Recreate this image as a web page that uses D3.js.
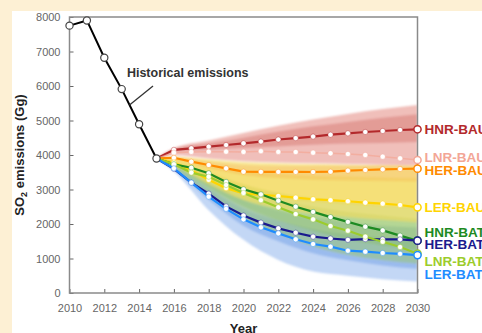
<!DOCTYPE html>
<html>
<head>
<meta charset="utf-8">
<script src="https://cdn.jsdelivr.net/npm/d3@7/dist/d3.min.js"></script>
<style>
  html, body { margin: 0; padding: 0; background: #fdf0d4; }
  svg { display: block; }
  text { font-family: Arial, "Liberation Sans", Helvetica, sans-serif; }
</style>
</head>
<body>
<svg id="chart" width="482" height="333"></svg>
<script>
// ---- Historical emissions (Gg) ----
const histYears  = [2010, 2011, 2012, 2013, 2014, 2015];
const histValues = [7750, 7900, 6820, 5910, 4890, 3900];

// ---- Scenario projections, 2015-2030 (Gg) ----
const projYears = [2015, 2016, 2017, 2018, 2019, 2020, 2021, 2022, 2023, 2024, 2025, 2026, 2027, 2028, 2029, 2030];
const hnrBau = [3900, 4150, 4194, 4241, 4290, 4339, 4390, 4450, 4490, 4535, 4588, 4629, 4667, 4696, 4725, 4745];
const lnrBau = [3900, 4067, 4090, 4096, 4096, 4090, 4110, 4090, 4087, 4067, 4049, 4029, 4000, 3951, 3904, 3855];
const herBau = [3900, 3920, 3806, 3710, 3614, 3516, 3512, 3510, 3510, 3507, 3516, 3545, 3565, 3586, 3594, 3603];
const lerBau = [3900, 3780, 3560, 3280, 3040, 2890, 2845, 2812, 2763, 2718, 2690, 2660, 2620, 2590, 2551, 2484];
const hnrBat = [3900, 3730, 3630, 3470, 3220, 3005, 2860, 2675, 2502, 2350, 2200, 2062, 1922, 1815, 1662, 1516];
const herBat = [3900, 3600, 3200, 2880, 2510, 2245, 2040, 1874, 1748, 1632, 1580, 1540, 1560, 1556, 1556, 1516];
const lnrBat = [3900, 3730, 3490, 3370, 3130, 2900, 2690, 2484, 2290, 2135, 1942, 1806, 1632, 1487, 1333, 1140];
const lerBat = [3900, 3614, 3197, 2792, 2440, 2135, 1903, 1729, 1556, 1420, 1342, 1226, 1197, 1160, 1135, 1100];

const scenarioNames  = ["HNR-BAU", "LNR-BAU", "HER-BAU", "LER-BAU", "HNR-BAT", "HER-BAT", "LNR-BAT", "LER-BAT"];
const scenarioValues = [hnrBau, lnrBau, herBau, lerBau, hnrBat, herBat, lnrBat, lerBat];
const scenarioColors = ["#b3292b", "#f3a696", "#ff8a00", "#ffd400", "#1d8a22", "#1a1a8e", "#9ccc2c", "#1e8cff"];
// label vertical nudges (px) so the stacked end labels stay readable
const labelNudge     = [0, -2.5, 1.5, 0, -8.5, 3.5, 7.5, 19.5];

// ---- Monte-Carlo ensemble envelopes (Gg) ----
const bandYears = [2015, 2016, 2018, 2020, 2022, 2024, 2026, 2028, 2030];
const blueOuterHi  = [3900, 3700, 3200, 2700, 2400, 2200, 2050, 1950, 1900];
const blueOuterLo  = [3900, 3520, 2400, 1540, 960, 620, 500, 400, 330];
const blueInnerHi  = [3900, 3650, 3020, 2450, 2100, 1850, 1700, 1600, 1550];
const blueInnerLo  = [3900, 3580, 2700, 1950, 1500, 1150, 950, 800, 700];
const greenOuterHi = [3900, 3800, 3500, 3150, 2900, 2750, 2650, 2550, 2500];
const greenOuterLo = [3900, 3600, 2800, 2150, 1700, 1350, 1100, 950, 850];
const greenInnerHi = [3900, 3760, 3400, 2980, 2700, 2500, 2350, 2250, 2150];
const greenInnerLo = [3900, 3660, 3050, 2500, 2100, 1800, 1550, 1380, 1250];
const yellowOuterHi = [3900, 3950, 3880, 3800, 3760, 3740, 3720, 3700, 3680];
const yellowOuterLo = [3900, 3700, 3150, 2700, 2450, 2300, 2200, 2120, 2050];
const yellowInnerHi = [3900, 3900, 3700, 3550, 3450, 3400, 3380, 3350, 3330];
const yellowInnerLo = [3900, 3760, 3300, 2950, 2750, 2650, 2580, 2520, 2450];
const orangeHi = [3900, 3940, 3820, 3720, 3690, 3690, 3700, 3710, 3700];
const orangeLo = [3900, 3870, 3620, 3420, 3330, 3280, 3260, 3250, 3230];
const redOuterHi = [3900, 4200, 4420, 4640, 4850, 5030, 5190, 5330, 5450];
const redOuterLo = [3900, 3990, 3900, 3820, 3780, 3760, 3740, 3720, 3700];
const redInnerHi = [3900, 4180, 4330, 4500, 4680, 4830, 4960, 5080, 5180];
const redInnerLo = [3900, 4090, 4150, 4200, 4250, 4300, 4330, 4350, 4380];

const yTicks = [0, 1000, 2000, 3000, 4000, 5000, 6000, 7000, 8000];
const xTicks = [2010, 2012, 2014, 2016, 2018, 2020, 2022, 2024, 2026, 2028, 2030];

// ---- Layout ----
const W = 482, H = 333;
const plot = { left: 69.5, right: 417.5, top: 17, bottom: 293 };

const svg = d3.select("#chart");
svg.append("rect").attr("width", W).attr("height", H).attr("fill", "#fdf0d4");
svg.append("rect").attr("x", 12).attr("y", 11).attr("width", W - 12).attr("height", H - 11).attr("fill", "#ffffff");

const x = d3.scaleLinear().domain([2010, 2030]).range([plot.left, plot.right]);
const y = d3.scaleLinear().domain([0, 8000]).range([plot.bottom, plot.top]);

const defs = svg.append("defs");
defs.append("clipPath").attr("id", "plotClip")
  .append("rect").attr("x", plot.left).attr("y", plot.top)
  .attr("width", plot.right - plot.left).attr("height", plot.bottom - plot.top);
// the ensemble is hundreds of faint runs, so its edges are soft
defs.append("filter").attr("id", "soft").attr("x", "-5%").attr("y", "-5%").attr("width", "110%").attr("height", "110%")
  .append("feGaussianBlur").attr("stdDeviation", 1.2);

const g = svg.append("g");

// ---- Ensemble bands ----
const bandLayer = g.append("g").attr("clip-path", "url(#plotClip)").append("g").attr("filter", "url(#soft)");
function band(lo, hi, color, opacity) {
  const area = d3.area()
    .x((d, i) => x(bandYears[i]))
    .y0((d, i) => y(lo[i]))
    .y1((d, i) => y(hi[i]))
    .curve(d3.curveMonotoneX);
  bandLayer.append("path").datum(bandYears).attr("d", area)
    .attr("fill", color).attr("fill-opacity", opacity);
}
band(blueOuterLo, blueOuterHi, "#6f9fe8", 0.42);
band(blueInnerLo, blueInnerHi, "#4d86e0", 0.35);
band(greenOuterLo, greenOuterHi, "#9cc86a", 0.5);
band(greenInnerLo, greenInnerHi, "#7fb84a", 0.3);
band(yellowOuterLo, yellowOuterHi, "#f4dc5c", 0.62);
band(yellowInnerLo, yellowInnerHi, "#f2d23a", 0.35);
band(orangeLo, orangeHi, "#f6b04a", 0.35);
band(redOuterLo, redOuterHi, "#e9a49c", 0.7);
band(redInnerLo, redInnerHi, "#cc5a55", 0.35);

// ---- Frame and axes ----
const yAxis = d3.axisLeft(y).tickValues(yTicks).tickSize(-4).tickPadding(9).tickFormat(d3.format("d"));
const xAxis = d3.axisBottom(x).tickValues(xTicks).tickSize(-4).tickPadding(11).tickFormat(d3.format("d"));

const ya = g.append("g").attr("transform", `translate(${plot.left},0)`).call(yAxis);
const xa = g.append("g").attr("transform", `translate(0,${plot.bottom})`).call(xAxis);
[ya, xa].forEach(a => {
  a.select(".domain").remove();
  a.selectAll(".tick line").attr("stroke", "#666").attr("stroke-width", 1);
  a.selectAll(".tick text").attr("fill", "#666").attr("font-size", 11);
});

g.append("rect")
  .attr("x", plot.left).attr("y", plot.top)
  .attr("width", plot.right - plot.left).attr("height", plot.bottom - plot.top)
  .attr("fill", "none").attr("stroke", "#8a8a8a").attr("stroke-width", 1.5);

// ---- Scenario lines and markers ----
const line = d3.line().x((d, i) => x(projYears[i])).y(d => y(d));
const scen = g.append("g");
scenarioValues.forEach((vals, k) => {
  scen.append("path").datum(vals).attr("d", line)
    .attr("fill", "none").attr("stroke", scenarioColors[k])
    .attr("stroke-width", k === 1 ? 1.5 : 2.2).attr("stroke-opacity", k === 1 ? 0.7 : 1);
});
scenarioValues.forEach((vals, k) => {
  scen.selectAll(null).data(vals.slice(1, -1)).enter().append("circle")
    .attr("cx", (d, i) => x(projYears[i + 1])).attr("cy", d => y(d))
    .attr("r", 2.6).attr("fill", "#fff")
    .attr("stroke", scenarioColors[k]).attr("stroke-opacity", 0.5).attr("stroke-width", 0.8);
});
scenarioValues.forEach((vals, k) => {
  const last = vals.length - 1;
  scen.append("circle")
    .attr("cx", x(projYears[last])).attr("cy", y(vals[last]))
    .attr("r", 3.6).attr("fill", "#fff")
    .attr("stroke", scenarioColors[k]).attr("stroke-width", 1.5);
  scen.append("text")
    .attr("x", x(projYears[last]) + 7)
    .attr("y", y(vals[last]) + labelNudge[k])
    .attr("dy", "0.36em")
    .attr("fill", scenarioColors[k])
    .attr("font-size", 13.5).attr("font-weight", "bold")
    .text(scenarioNames[k]);
});

// ---- Historical series ----
const histLine = d3.line().x((d, i) => x(histYears[i])).y(d => y(d));
g.append("path").datum(histValues).attr("d", histLine)
  .attr("fill", "none").attr("stroke", "#000").attr("stroke-width", 2);
g.selectAll(".hist").data(histValues).enter().append("circle")
  .attr("cx", (d, i) => x(histYears[i])).attr("cy", d => y(d))
  .attr("r", 3.6).attr("fill", "#fff").attr("stroke", "#444").attr("stroke-width", 1.2);

// annotation for the historical series
const pointerYear = 2013.45;
const pointerVal = histValues[3] + (histValues[4] - histValues[3]) * (pointerYear - 2013);
g.append("line")
  .attr("x1", x(2014.8)).attr("y1", y(6000))
  .attr("x2", x(pointerYear)).attr("y2", y(pointerVal))
  .attr("stroke", "#333").attr("stroke-width", 1.3);
g.append("text")
  .attr("x", x(2013.3)).attr("y", y(6380)).attr("dy", "0.36em")
  .attr("fill", "#333").attr("font-size", 12.5).attr("font-weight", "bold")
  .text("Historical emissions");

// ---- Axis titles ----
g.append("text")
  .attr("x", (plot.left + plot.right) / 2).attr("y", 332.5)
  .attr("text-anchor", "middle").attr("fill", "#222")
  .attr("font-size", 13).attr("font-weight", "bold").text("Year");

const yTitle = g.append("text")
  .attr("transform", `translate(24,${(plot.top + plot.bottom) / 2}) rotate(-90)`)
  .attr("text-anchor", "middle").attr("fill", "#222")
  .attr("font-size", 13).attr("font-weight", "bold");
yTitle.append("tspan").text("SO");
yTitle.append("tspan").attr("font-size", 9).attr("dy", 3).text("2");
yTitle.append("tspan").attr("dy", -3).text(" emissions (Gg)");
</script>
</body>
</html>
